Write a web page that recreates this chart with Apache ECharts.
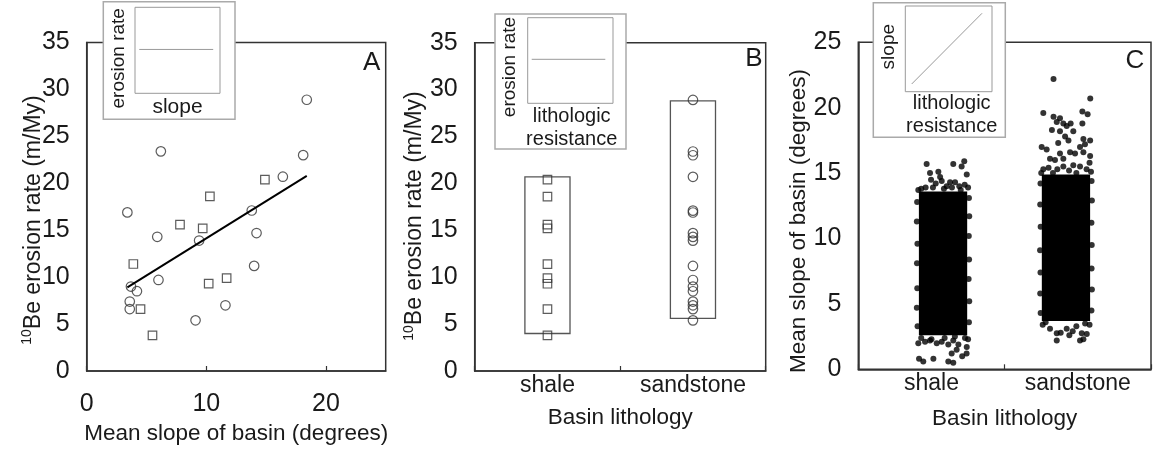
<!DOCTYPE html>
<html>
<head>
<meta charset="utf-8">
<script src="https://cdn.jsdelivr.net/npm/echarts@6/dist/echarts.min.js"></script>
<style>
  html, body { margin: 0; padding: 0; background: #fff; }
  #main { width: 1160px; height: 456px; }
</style>
</head>
<body>
<div id="main"></div>
<script>
// panel A / B: basins (squares = shale, circles = sandstone)
const shaleSlope = [3.9, 4.5, 5.5, 7.8, 9.7, 10.3, 10.2, 11.7, 14.9];
const shaleRate = [11.4, 6.6, 3.8, 15.6, 15.2, 18.6, 9.3, 9.9, 20.4];
const sandSlope = [3.4, 6.2, 5.9, 6.0, 3.7, 4.2, 3.6, 3.6, 9.1, 9.4, 11.6, 13.8, 14.2, 14.0, 16.4, 18.1, 18.4];
const sandRate = [16.9, 23.4, 14.3, 9.7, 9.0, 8.5, 7.4, 6.6, 5.4, 13.9, 7.0, 17.1, 14.7, 11.2, 20.7, 23.0, 28.9];
const fitSlope = [3.4, 18.4];
const fitRate = [8.9, 20.8];

const lithologies = ['shale', 'sandstone'];
const shaleBox = [4.0, 20.7];
const sandBox = [5.6, 28.8];

// panel C: jittered slopes, dense core + the sparse dots round it
const cloudX = [1.079, 1.919];
const cloudHalfWidth = 0.165;
const shaleCore = [2.6, 13.6];
const sandCore = [3.7, 14.9];
const shaleDots = [
    [0.967, 15.7], [1.149, 15.7], [1.206, 15.5], [1.224, 15.9], [1.241, 14.9], [0.990, 15.0],
    [1.047, 15.1], [1.059, 14.7], [0.997, 14.5], [1.029, 14.2], [1.127, 14.3], [1.161, 14.3],
    [0.910, 13.7], [1.227, 14.1], [1.104, 14.0], [0.930, 13.8], [1.070, 14.4], [1.190, 14.0],
    [1.250, 13.9], [0.960, 13.9], [1.010, 13.9], [1.140, 13.9], [1.085, 13.8], [1.200, 13.7],
    [0.910, 2.0], [0.956, 2.1], [1.036, 2.0], [1.070, 2.1], [1.115, 1.9], [1.149, 2.2],
    [1.184, 1.9], [1.229, 2.4], [1.241, 1.7], [0.915, 0.8], [0.944, 0.6], [1.013, 0.8],
    [1.115, 0.6], [1.149, 0.5], [1.138, 1.2], [1.172, 1.5], [0.930, 2.4], [1.000, 2.3],
    [1.250, 2.3], [1.240, 1.2], [1.210, 1.0], [0.990, 2.2], [1.090, 2.4], [1.160, 2.5],
    // ragged sides
    [0.902, 12.8], [0.900, 11.3], [0.904, 9.6], [0.901, 8.1], [0.903, 6.2], [0.900, 4.7], [0.905, 3.3],
    [1.256, 13.1], [1.258, 11.7], [1.255, 10.2], [1.257, 8.4], [1.254, 6.9], [1.258, 5.2], [1.256, 3.6]
];
const sandDots = [
    [1.834, 22.2], [1.764, 19.6], [2.085, 20.7], [2.031, 19.7], [2.067, 19.5], [1.834, 19.3],
    [1.878, 19.2], [1.856, 18.9], [1.901, 18.8], [1.951, 18.8], [2.031, 18.8], [1.823, 18.3],
    [1.878, 18.2], [1.924, 18.6], [1.969, 18.2], [1.913, 17.8], [1.936, 17.5], [2.038, 17.6],
    [2.084, 17.5], [1.866, 17.3], [1.753, 17.0], [1.787, 16.8], [2.015, 17.0], [2.049, 17.2],
    [2.084, 16.3], [1.947, 16.6], [1.878, 16.5], [1.810, 16.1], [1.844, 16.0], [1.901, 16.1],
    [1.981, 16.5], [2.038, 16.6], [1.764, 15.3], [1.969, 15.6], [2.015, 15.5], [1.901, 15.5],
    [1.750, 15.0], [1.800, 15.4], [1.860, 15.3], [1.940, 15.2], [2.060, 15.3], [2.090, 15.1],
    [1.830, 15.0], [1.990, 15.0], [2.080, 15.8],
    [1.856, 2.75], [1.883, 2.8], [1.856, 2.2], [1.942, 2.6], [1.965, 2.9], [2.027, 2.75],
    [2.061, 2.7], [2.038, 2.3], [2.015, 2.2], [1.810, 3.1], [1.924, 3.1], [1.760, 3.4],
    [1.990, 3.3], [2.080, 3.4], [1.780, 3.6], [2.050, 3.5],
    // ragged sides
    [1.745, 14.2], [1.743, 12.6], [1.746, 10.9], [1.742, 9.1], [1.745, 7.4], [1.743, 5.8], [1.746, 4.3],
    [2.094, 14.4], [2.096, 12.9], [2.093, 11.2], [2.095, 9.5], [2.094, 7.7], [2.096, 6.1], [2.093, 4.5]
];

// inset sketches (unit boxes)
const insetAX = [0.05, 0.92], insetAY = [0.51, 0.51];
const insetBX = [0.047, 0.91], insetBY = [0.514, 0.514];
const insetCX = [0.074, 0.885], insetCY = [0.09, 0.915];

const FONT = "'Liberation Sans', Arial, sans-serif";
const INK = '#1a1a1a';
const AXIS = '#333';

let chart = echarts.init(document.getElementById('main'));

function zip(xs, ys) {
    return xs.map(function (x, i) { return [x, ys[i]]; });
}

function valueY(gridIndex, max) {
    return {
        gridIndex: gridIndex, type: 'value', min: 0, max: max, interval: 5,
        axisLine: {show: true, lineStyle: {color: AXIS, width: 1.5}},
        axisTick: {show: false},
        splitLine: {show: false},
        axisLabel: {fontSize: 25, color: INK, fontFamily: FONT, margin: 17}
    };
}

function categoryX(gridIndex, gap) {
    return {
        gridIndex: gridIndex, type: 'category', data: lithologies,
        axisLine: {show: true, lineStyle: {color: AXIS, width: 1.5}},
        axisTick: {show: true, inside: true, length: 5, lineStyle: {color: AXIS, width: 1.2}},
        splitLine: {show: false},
        axisLabel: {fontSize: 23, color: INK, fontFamily: FONT, margin: 3},
        name: 'Basin lithology', nameLocation: 'middle', nameGap: gap,
        nameTextStyle: {fontSize: 22.5, color: INK, fontFamily: FONT}
    };
}

function hiddenAxis(gridIndex, min, max) {
    return {gridIndex: gridIndex, type: 'value', min: min, max: max, show: false, splitLine: {show: false}};
}

function insetGrid(left, top, width, height) {
    return {
        left: left, top: top, width: width, height: height, show: true, z: 10,
        backgroundColor: '#fff', borderColor: '#999', borderWidth: 1
    };
}

function insetLine(xAxisIndex, yAxisIndex, xs, ys) {
    return {
        type: 'line', xAxisIndex: xAxisIndex, yAxisIndex: yAxisIndex, z: 12,
        data: zip(xs, ys), symbol: 'none', silent: true,
        lineStyle: {color: '#999', width: 1}
    };
}

function renderBox(params, api) {
    let x = api.coord([api.value(0), 0])[0];
    let w = api.size([1, 0])[0] * 0.31;
    let top = api.coord([api.value(0), api.value(2)])[1];
    let bottom = api.coord([api.value(0), api.value(1)])[1];
    return {
        type: 'rect',
        shape: {x: x - w / 2, y: top, width: w, height: bottom - top},
        style: {fill: '#fff', stroke: '#555', lineWidth: 1.3}
    };
}

function renderCore(params, api) {
    let cx = api.value(0), hw = api.value(3);
    let p1 = api.coord([cx - hw, api.value(2)]);
    let p2 = api.coord([cx + hw, api.value(1)]);
    return {
        type: 'rect',
        shape: {x: p1[0], y: p1[1], width: p2[0] - p1[0], height: p2[1] - p1[1]},
        style: {fill: '#000'}
    };
}

const hollow = {color: 'rgba(255,255,255,0)', borderColor: AXIS, borderWidth: 1.2};

function outerBox(x, y, w, h) {
    return {
        type: 'rect', z: 5, silent: true,
        shape: {x: x, y: y, width: w, height: h},
        style: {fill: '#fff', stroke: '#aaa', lineWidth: 1.5}
    };
}

function label(text, x, y, size, rotate) {
    return {
        type: 'text', z: 20, silent: true, x: x, y: y, rotation: rotate ? Math.PI / 2 : 0,
        style: {
            text: text, fontSize: size, fontFamily: FONT, fill: INK, align: 'center', verticalAlign: 'middle',
            rich: {sup: {fontSize: 14, fontFamily: FONT, fill: INK, verticalAlign: 'top', lineHeight: 26}}
        }
    };
}

let option = {
    backgroundColor: '#fff',
    animation: false,
    grid: [
        {left: 86.7, top: 42.5, width: 299, height: 328.5, show: true, borderColor: AXIS, borderWidth: 1.5},
        {left: 474.7, top: 42.7, width: 291, height: 328.3, show: true, borderColor: AXIS, borderWidth: 1.5},
        {left: 858.3, top: 42.3, width: 292.7, height: 327, show: true, borderColor: AXIS, borderWidth: 1.5},
        insetGrid(135, 7.3, 85, 86),
        insetGrid(527.7, 17.7, 85.3, 85.6),
        insetGrid(905.3, 6, 86.7, 85.7)
    ],
    xAxis: [
        {
            gridIndex: 0, type: 'value', min: 0, max: 25, interval: 10,
            axisLine: {show: true, lineStyle: {color: AXIS, width: 1.5}},
            axisTick: {show: true, inside: true, length: 5, lineStyle: {color: AXIS, width: 1.2}},
            splitLine: {show: false},
            axisLabel: {fontSize: 25, color: INK, fontFamily: FONT, margin: 21, showMaxLabel: false},
            name: 'Mean slope of basin (degrees)', nameLocation: 'middle', nameGap: 48,
            nameTextStyle: {fontSize: 22.5, color: INK, fontFamily: FONT}
        },
        categoryX(1, 35),
        categoryX(2, 38),
        hiddenAxis(2, 0.5, 2.5),
        hiddenAxis(3, 0, 1),
        hiddenAxis(4, 0, 1),
        hiddenAxis(5, 0, 1)
    ],
    yAxis: [
        valueY(0, 35),
        valueY(1, 35),
        valueY(2, 25),
        hiddenAxis(3, 0, 1),
        hiddenAxis(4, 0, 1),
        hiddenAxis(5, 0, 1)
    ],
    series: [
        // A
        {
            type: 'line', xAxisIndex: 0, yAxisIndex: 0, data: zip(fitSlope, fitRate),
            symbol: 'none', lineStyle: {color: '#000', width: 2}
        },
        {
            type: 'scatter', xAxisIndex: 0, yAxisIndex: 0, data: zip(sandSlope, sandRate),
            symbol: 'circle', symbolSize: 9.5, itemStyle: hollow
        },
        {
            type: 'scatter', xAxisIndex: 0, yAxisIndex: 0, data: zip(shaleSlope, shaleRate),
            symbol: 'rect', symbolSize: 8.5, itemStyle: hollow
        },
        // B
        {
            type: 'custom', xAxisIndex: 1, yAxisIndex: 1, renderItem: renderBox,
            encode: {x: 0, y: [1, 2]},
            data: [[0, shaleBox[0], shaleBox[1]], [1, sandBox[0], sandBox[1]]]
        },
        {
            type: 'scatter', xAxisIndex: 1, yAxisIndex: 1, z: 3,
            data: shaleRate.map(function (v) { return [0, v]; }),
            symbol: 'rect', symbolSize: 8.5, itemStyle: hollow
        },
        {
            type: 'scatter', xAxisIndex: 1, yAxisIndex: 1, z: 3,
            data: sandRate.map(function (v) { return [1, v]; }),
            symbol: 'circle', symbolSize: 9.5, itemStyle: hollow
        },
        // C
        {
            type: 'custom', xAxisIndex: 3, yAxisIndex: 2, renderItem: renderCore,
            encode: {x: 0, y: [1, 2]},
            data: [
                [cloudX[0], shaleCore[0], shaleCore[1], cloudHalfWidth],
                [cloudX[1], sandCore[0], sandCore[1], cloudHalfWidth]
            ]
        },
        {
            type: 'scatter', xAxisIndex: 3, yAxisIndex: 2, data: shaleDots.concat(sandDots),
            symbol: 'circle', symbolSize: 6, itemStyle: {color: '#000'}
        },
        // insets
        insetLine(4, 3, insetAX, insetAY),
        insetLine(5, 4, insetBX, insetBY),
        insetLine(6, 5, insetCX, insetCY)
    ],
    graphic: [
        outerBox(103.3, 1.7, 131.7, 117.6),
        outerBox(495, 14, 131, 135),
        outerBox(873.3, 2.7, 132, 134.6),
        label('erosion rate', 118.3, 58.3, 19, true),
        label('slope', 177.5, 107, 21, false),
        label('erosion rate', 510, 67, 19, true),
        label('lithologic', 571.7, 116, 20, false),
        label('resistance', 571.7, 139, 20, false),
        label('slope', 888.3, 46.7, 19, true),
        label('lithologic', 951.7, 103.5, 20, false),
        label('resistance', 951.7, 126, 20, false),
        label('A', 371.7, 62.5, 26, false),
        label('B', 754, 59, 26, false),
        label('C', 1135, 61, 26, false),
        // axis titles
        label('{sup|10}Be erosion rate (m/My)', 33.5, 220, 23, true),
        label('{sup|10}Be erosion rate (m/My)', 415, 216, 23, true),
        label('Mean slope of basin (degrees)', 798.3, 221, 22.5, true)
    ]
};

chart.setOption(option);
</script>
</body>
</html>
